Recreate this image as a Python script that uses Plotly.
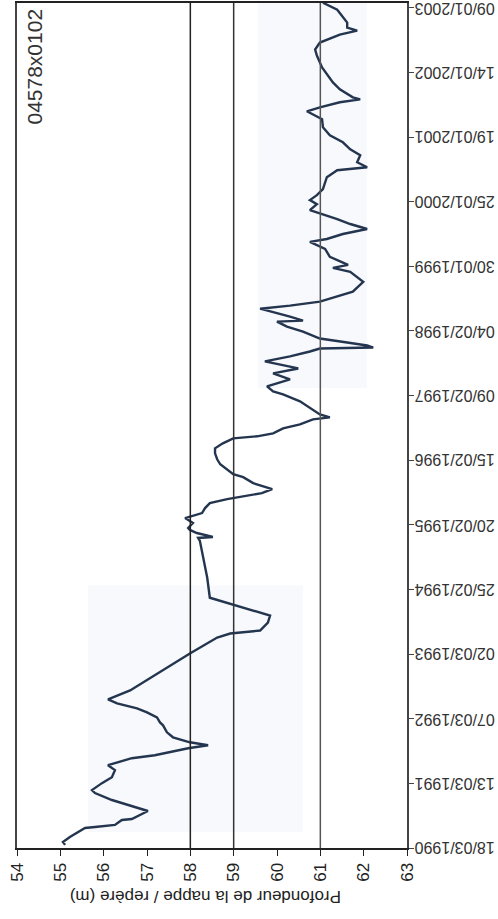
import plotly.graph_objects as go
import pandas as pd

# Series: depth of water table (m) vs time (decimal years)
years = [1990.256, 1990.301, 1990.377, 1990.514, 1990.529, 1990.56, 1990.636, 1990.65,
         1990.772, 1990.864, 1990.94, 1991.046, 1991.092, 1991.198, 1991.289, 1991.396,
         1991.472, 1991.578, 1991.624, 1991.73, 1991.776, 1991.821, 1991.897, 1991.973,
         1992.08, 1992.125, 1992.201, 1992.277, 1992.338, 1992.414, 1992.475, 1992.612,
         1993.174, 1993.417, 1993.478, 1993.524, 1993.645, 1993.752, 1993.873, 1993.98,
         1994.025, 1994.329, 1994.892, 1994.937, 1994.952, 1995.013, 1995.059, 1995.089,
         1995.165, 1995.241, 1995.272, 1995.317, 1995.393, 1995.469, 1995.53, 1995.576,
         1995.621, 1995.682, 1995.728, 1995.773, 1995.864, 1995.91, 1996.062, 1996.138,
         1996.229, 1996.305, 1996.381, 1996.457, 1996.488, 1996.533, 1996.609, 1996.67,
         1996.746, 1996.776, 1996.822, 1997.02, 1997.126, 1997.172, 1997.248, 1997.354,
         1997.445, 1997.521, 1997.628, 1997.704, 1997.78, 1997.825, 1997.84, 1997.871,
         1997.916, 1997.977, 1998.084, 1998.16, 1998.236, 1998.251, 1998.312, 1998.388,
         1998.433, 1998.479, 1998.54, 1998.692, 1998.844, 1998.996, 1999.056, 1999.102,
         1999.224, 1999.345, 1999.452, 1999.497, 1999.573, 1999.649, 1999.725, 1999.801,
         1999.938, 2000.029, 2000.09, 2000.166, 2000.257, 2000.44, 2000.546, 2000.592,
         2000.668, 2000.774, 2000.865, 2000.972, 2001.078, 2001.2, 2001.321, 2001.443,
         2001.504, 2001.58, 2001.625, 2001.656, 2001.777, 2001.884, 2002.112, 2002.294,
         2002.385, 2002.492, 2002.613, 2002.674, 2002.72, 2002.796, 2002.993, 2003.10]

depth = [55.11, 55.06, 55.22, 55.57, 55.80, 56.26, 56.42, 56.65,
         57.02, 56.56, 56.19, 55.80, 55.73, 55.96, 56.19, 56.26,
         56.10, 56.65, 57.18, 57.95, 58.41, 57.99, 57.60, 57.46,
         57.37, 57.30, 57.23, 57.00, 56.77, 56.31, 56.10, 56.61,
         57.99, 58.62, 58.92, 59.61, 59.79, 59.84, 59.22, 58.69,
         58.45, 58.39, 58.22, 58.18, 58.52, 58.15, 57.99, 57.95,
         58.06, 57.88, 58.06, 58.27, 58.34, 58.45, 58.85, 59.22,
         59.65, 59.89, 59.68, 59.45, 59.22, 58.99, 58.69, 58.62,
         58.57, 58.57, 58.75, 58.99, 59.54, 59.91, 60.14, 60.53,
         60.83, 61.22, 60.99, 60.53, 60.14, 59.91, 59.77, 60.30,
         59.91, 60.49, 59.72, 60.30, 60.76, 60.99, 62.22, 62.08,
         61.62, 60.99, 60.60, 60.23, 60.00, 60.60, 60.30, 59.84,
         59.61, 60.30, 60.99, 61.75, 61.99, 61.69, 61.29, 61.64,
         61.22, 61.11, 60.76, 61.15, 61.52, 62.08, 61.69, 61.39,
         60.76, 60.92, 60.76, 60.92, 61.06, 61.15, 61.39, 62.08,
         61.85, 61.92, 61.69, 61.52, 61.22, 61.06, 61.04, 60.69,
         60.99, 61.45, 61.92, 61.75, 61.45, 61.29, 61.04, 60.92,
         60.88, 60.99, 61.45, 61.85, 61.62, 61.62, 61.39, 61.06]

tick_dates = ["1990-03-18", "1991-03-13", "1992-03-07", "1993-03-02", "1994-02-25",
              "1995-02-20", "1996-02-15", "1997-02-09", "1998-02-04", "1999-01-30",
              "2000-01-25", "2001-01-19", "2002-01-14", "2003-01-09"]
tick_text = ["18/03/1990", "13/03/1991", "07/03/1992", "02/03/1993", "25/02/1994",
             "20/02/1995", "15/02/1996", "09/02/1997", "04/02/1998", "30/01/1999",
             "25/01/2000", "19/01/2001", "14/01/2002", "09/01/2003"]
ref_lines = [58, 59, 61]
depth_ticks = list(range(54, 64))
station = "04578x0102"
x_title = "Profondeur de la nappe / repère (m)"


def to_date(y):
    yr = int(y)
    return pd.Timestamp(year=yr, month=1, day=1) + pd.to_timedelta((y - yr) * 365.25, unit="D")


dates = [to_date(y) for y in years]

fig = go.Figure()

# faint scan shading bands
fig.add_shape(type="rect", xref="x", yref="y", x0=55.64, x1=60.6,
              y0=to_date(1990.45), y1=to_date(1994.21),
              fillcolor="#f8f9fc", line_width=0, layer="below")
fig.add_shape(type="rect", xref="x", yref="y", x0=59.56, x1=62.08,
              y0=to_date(1997.22), y1=to_date(2003.2),
              fillcolor="#f8f9fc", line_width=0, layer="below")

for v, c in zip(ref_lines, ["#222222", "#333333", "#555555"]):
    fig.add_shape(type="line", xref="x", yref="paper", x0=v, x1=v, y0=0, y1=1,
                  line=dict(color=c, width=1.5))

fig.add_trace(go.Scatter(x=depth, y=dates, mode="lines",
                         line=dict(color="#24354f", width=2.4), showlegend=False))

annotations = [
    dict(text=station, xref="paper", yref="paper", x=0.044, y=0.996,
         xanchor="center", yanchor="top", textangle=-90, showarrow=False,
         font=dict(size=21, color="#333")),
    dict(text=x_title, xref="paper", yref="paper", x=0.482, y=-0.058,
         xanchor="center", yanchor="middle", textangle=180, showarrow=False,
         font=dict(size=17, color="#222")),
]
# upside-down date tick labels (rotated chart)
for d, t in zip(tick_dates, tick_text):
    annotations.append(dict(text=t, xref="paper", yref="y", x=1.015, y=d,
                            xanchor="left", yanchor="middle", textangle=180,
                            showarrow=False, font=dict(size=16, color="#333")))

fig.update_layout(
    width=498, height=919,
    margin=dict(l=17, r=91, t=1, b=71),
    paper_bgcolor="white", plot_bgcolor="white",
    font=dict(family="Liberation Sans, Arial, sans-serif", color="#222"),
    xaxis=dict(range=[54, 63], tickvals=depth_ticks, tickangle=-90,
               ticks="outside", ticklen=6, tickcolor="#222",
               showline=True, linecolor="#222", linewidth=2, mirror=True,
               showgrid=False, zeroline=False, tickfont=dict(size=17)),
    yaxis=dict(type="date", range=["1990-03-18", "2003-02-05"], side="right",
               tickvals=tick_dates, showticklabels=False,
               ticks="outside", ticklen=5, tickcolor="#444",
               showline=True, linecolor="#444", linewidth=1.5, mirror=True,
               showgrid=False, zeroline=False),
    annotations=annotations,
)

fig.write_html("out.html")
